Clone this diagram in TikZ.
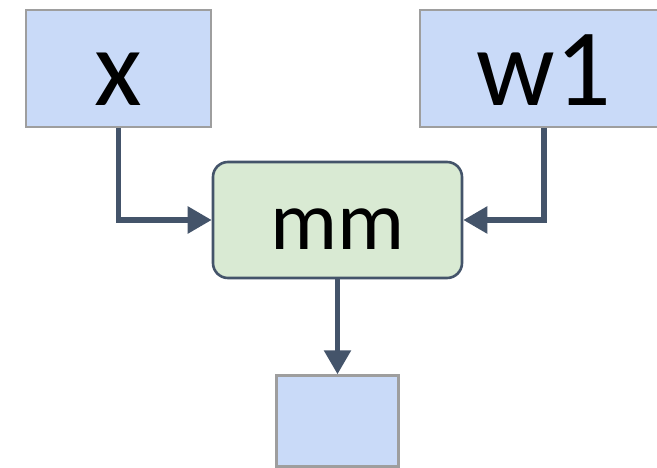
\documentclass[tikz,border=0pt]{standalone}
\usepackage{fontspec}
\setmainfont{Carlito}
\usetikzlibrary{arrows.meta,positioning}
\definecolor{kekdoboz}{HTML}{C9DAF8}
\definecolor{zolddoboz}{HTML}{D9EAD3}
\definecolor{palakek}{HTML}{44546A}
\definecolor{keret}{HTML}{9E9E9E}
\tikzset{
  tenzor/.style={draw=keret,line width=2.2pt,fill=kekdoboz,inner sep=0pt,
                 minimum height=117pt,font=\fontsize{110}{120}\selectfont,
                 text height=94pt,text depth=19pt},
  muvelet/.style={draw=palakek,line width=2.6pt,fill=zolddoboz,rounded corners=15pt,inner sep=0pt,
                  minimum width=249pt,minimum height=116pt,font=\fontsize{84}{96}\selectfont,
                  text height=78pt,text depth=18pt},
  nyil/.style={draw=palakek,line width=5.5pt,-{Triangle[length=24pt,width=26pt]}},
}
\begin{document}
\begin{tikzpicture}[x=1pt,y=-1pt]
  \clip (0,0) rectangle (657,468);
  \fill[white] (0,0) rectangle (657,468);
  \node[tenzor,minimum width=185pt] (x) at (118.5,68.5) {x};
  \node[tenzor,minimum width=248pt] (w1) at (544,68.5) {w1};
  \node[muvelet] (mm) at (337.5,220) {mm};
  \node[tenzor,minimum width=122pt,minimum height=91pt,text height=0pt,text depth=0pt,
        below=95pt of mm] (ki) {};
  \draw[nyil] (x.south) |- (mm.west);
  \draw[nyil] (w1.south) |- (mm.east);
  \draw[nyil] (mm.south) -- (ki.north);
\end{tikzpicture}
\end{document}
